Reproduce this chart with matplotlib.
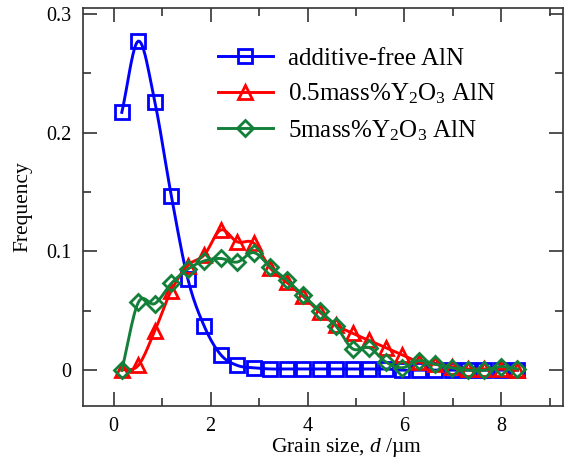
import numpy as np
import matplotlib
matplotlib.use("Agg")
import matplotlib.pyplot as plt
from matplotlib.ticker import MultipleLocator

plt.rcParams['font.family'] = ['Liberation Serif', 'DejaVu Serif']
plt.rcParams['mathtext.fontset'] = 'custom'
plt.rcParams['mathtext.rm'] = 'Liberation Serif'
plt.rcParams['mathtext.it'] = 'Liberation Serif:italic'

# grain size bins (um)
grain_size = [0.17, 0.51, 0.85, 1.19, 1.53, 1.87, 2.21, 2.55, 2.89, 3.23,
              3.57, 3.91, 4.25, 4.59, 4.93, 5.27, 5.61, 5.95, 6.29, 6.63,
              6.97, 7.31, 7.65, 7.99, 8.33]

freq_free = [0.217, 0.277, 0.226, 0.147, 0.077, 0.037, 0.013, 0.004, 0.002, 0.001,
             0.001, 0.001, 0.001, 0.001, 0.001, 0.001, 0.001, 0.0, 0.0, 0.0,
             0.0, 0.0, 0.0, 0.0, 0.0]

freq_05y = [0.0, 0.004, 0.033, 0.067, 0.088, 0.097, 0.118, 0.108, 0.107, 0.086,
            0.074, 0.062, 0.049, 0.038, 0.031, 0.025, 0.019, 0.013, 0.007, 0.005,
            0.003, 0.001, 0.001, 0.001, 0.0]

freq_5y = [0.0, 0.057, 0.056, 0.073, 0.085, 0.092, 0.094, 0.091, 0.099, 0.087,
           0.076, 0.063, 0.050, 0.037, 0.018, 0.019, 0.007, 0.002, 0.008, 0.005,
           0.002, 0.0, 0.0, 0.003, 0.001]

labels = ["additive-free AlN",
          r"0.5mass%Y$_2$O$_3$ AlN",
          r"5mass%Y$_2$O$_3$ AlN"]


def smooth(x, y, n=12):
    # catmull-rom curve through the points, for the drawn line only
    x = np.asarray(x, float)
    y = np.asarray(y, float)
    px = np.concatenate([[2 * x[0] - x[1]], x, [2 * x[-1] - x[-2]]])
    py = np.concatenate([[2 * y[0] - y[1]], y, [2 * y[-1] - y[-2]]])
    t = np.linspace(0, 1, n, endpoint=False)
    xs, ys = [], []
    for i in range(1, len(px) - 2):
        for p, out in ((px, xs), (py, ys)):
            p0, p1, p2, p3 = p[i - 1:i + 3]
            out.extend(0.5 * (2 * p1 + (-p0 + p2) * t
                              + (2 * p0 - 5 * p1 + 4 * p2 - p3) * t ** 2
                              + (-p0 + 3 * p1 - 3 * p2 + p3) * t ** 3))
    xs.append(x[-1])
    ys.append(y[-1])
    return np.array(xs), np.array(ys)


fig = plt.figure(figsize=(5.67, 4.61), dpi=100)
ax = fig.add_axes([0.146, 0.119, 0.847, 0.864])

series = [
    (freq_free, '#0000ff', 's', 9.6),
    (freq_05y, '#ff0000', '^', 10.0),
    (freq_5y, '#138039', 'D', 8.4),
]
n = 12
for (vals, col, mk, ms), lab in zip(series, labels):
    sx, sy = smooth(grain_size, vals, n)
    ax.plot(sx, sy, color=col, lw=2.1, marker=mk, markevery=n, ms=ms,
            mfc='none', mec=col, mew=2.0, label=lab)

ax.set_xlim(-0.635, 9.27)
ax.set_ylim(-0.0303, 0.305)
ax.xaxis.set_major_locator(MultipleLocator(2))
ax.xaxis.set_minor_locator(MultipleLocator(1))
ax.yaxis.set_major_locator(MultipleLocator(0.1))
ax.yaxis.set_minor_locator(MultipleLocator(0.05))
ax.set_yticks([0, 0.1, 0.2, 0.3])
ax.set_yticklabels(['0', '0.1', '0.2', '0.3'])

ax.tick_params(which='both', direction='in', top=True, right=True,
               color='#333333', width=1.2, labelsize=14.5, pad=8)
ax.tick_params(which='major', length=10)
ax.tick_params(which='minor', length=5.5)
for sp in ax.spines.values():
    sp.set_color('#333333')
    sp.set_linewidth(1.2)

ax.set_xlabel(r"Grain size, $d$ /µm", fontsize=15.5)
ax.xaxis.set_label_coords(0.55, -0.076)
ax.set_ylabel("Frequency", fontsize=15.5)
ax.yaxis.set_label_coords(-0.104, 0.5)

ax.legend(loc='upper left', bbox_to_anchor=(0.255, 0.932), frameon=False,
          fontsize=18, handlelength=2.2, handletextpad=0.6, borderpad=0,
          labelspacing=0.47, numpoints=1)

fig.savefig("out.png", dpi=100)
